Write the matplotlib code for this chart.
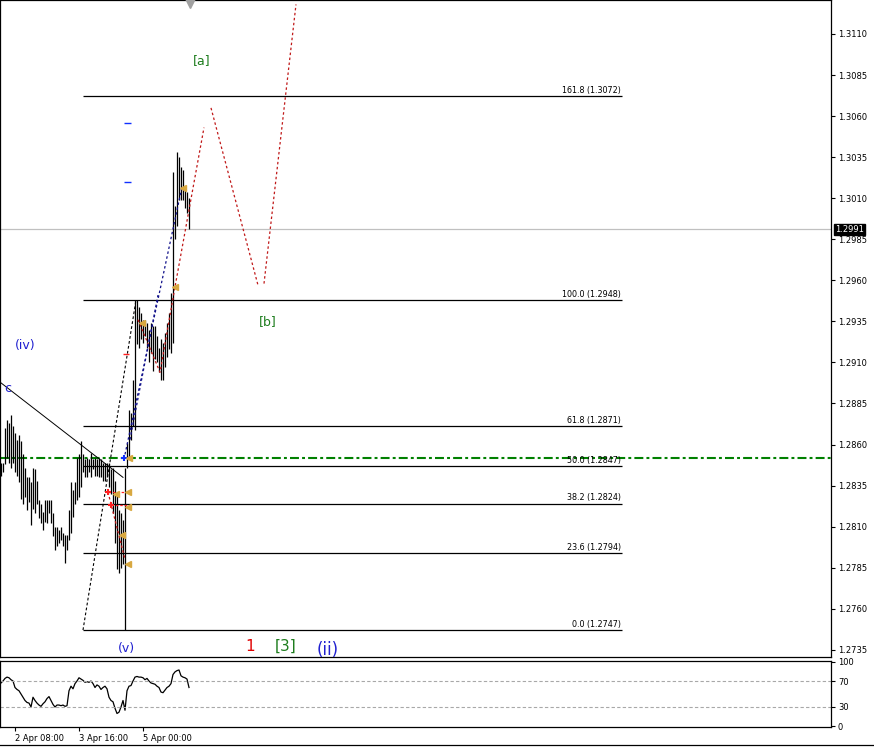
import matplotlib.pyplot as plt
from matplotlib.lines import Line2D
import numpy as np

# hourly bars, x = hours since 2 Apr 00:00
bar_high = [1.2849, 1.2849, 1.2870, 1.2875, 1.2873, 1.2878, 1.2871, 1.2867, 1.2863, 1.2866,
            1.2862, 1.2854, 1.2846, 1.2840, 1.2840, 1.2837, 1.2846, 1.2845, 1.2838, 1.2826,
            1.2824, 1.2819, 1.2826, 1.2826, 1.2826, 1.2826, 1.2818, 1.2810, 1.2810, 1.2808,
            1.2810, 1.2806, 1.2805, 1.2805, 1.2820, 1.2837, 1.2832, 1.2837, 1.2852, 1.2854,
            1.2862, 1.2854, 1.2851, 1.2852, 1.2851, 1.2855, 1.2851, 1.2852, 1.2851, 1.2852,
            1.2851, 1.2849, 1.2849, 1.2849, 1.2849, 1.2845, 1.2846, 1.2838, 1.2830, 1.2820,
            1.2818, 1.2814, 1.2846, 1.2861, 1.2881, 1.2879, 1.2899, 1.2948, 1.2948, 1.2944,
            1.2940, 1.2936, 1.2936, 1.2934, 1.2930, 1.2934, 1.2932, 1.2932, 1.2926, 1.2919,
            1.2924, 1.2922, 1.2928, 1.2934, 1.2940, 1.2952, 1.3026, 1.3005, 1.3038, 1.3035,
            1.3029, 1.3027, 1.3015, 1.3014, 1.3010]
bar_low = [1.2841, 1.2843, 1.2848, 1.2852, 1.2849, 1.2846, 1.2849, 1.2843, 1.2841, 1.2837,
           1.2827, 1.2824, 1.2828, 1.2820, 1.2825, 1.2811, 1.2821, 1.2818, 1.2824, 1.2815,
           1.2812, 1.2808, 1.2813, 1.2812, 1.2818, 1.2812, 1.2804, 1.2796, 1.2798, 1.2800,
           1.2802, 1.2798, 1.2788, 1.2796, 1.2802, 1.2806, 1.2816, 1.2824, 1.2826, 1.2828,
           1.2834, 1.2843, 1.2840, 1.2840, 1.2843, 1.2840, 1.2845, 1.2841, 1.2841, 1.2840,
           1.2840, 1.2838, 1.2838, 1.2840, 1.2834, 1.2830, 1.2818, 1.2800, 1.2784, 1.2782,
           1.2785, 1.2787, 1.2747, 1.2846, 1.2852, 1.2863, 1.2871, 1.2869, 1.2921, 1.2919,
           1.2924, 1.2922, 1.2926, 1.2919, 1.2910, 1.2916, 1.2905, 1.2912, 1.2910, 1.2904,
           1.2899, 1.2899, 1.2907, 1.2913, 1.2918, 1.2916, 1.2922, 1.2985, 1.2993, 1.3009,
           1.3009, 1.3009, 1.3004, 1.3001, 1.2991]
osc = [67, 70, 74, 76, 75, 72, 70, 60, 57, 55,
       50, 45, 40, 37, 36, 30, 45, 40, 36, 33,
       31, 35, 38, 43, 46, 40, 34, 30, 33, 33,
       32, 33, 31, 32, 55, 62, 58, 66, 70, 75,
       73, 71, 68, 69, 68, 70, 66, 60, 64, 62,
       57, 60, 62, 58, 45, 40, 38, 28, 20, 22,
       30, 40, 25, 55, 62, 63, 70, 76, 77, 76,
       76, 75, 72, 74, 70, 67, 66, 65, 62, 60,
       53, 52, 56, 60, 62, 66, 80, 84, 86, 87,
       78, 76, 75, 73, 60]
hours = np.arange(1, len(bar_high) + 1)

bid = 1.2991
support = 1.2852
fib_levels = [0.0, 23.6, 38.2, 50.0, 61.8, 100.0, 161.8]
fib_prices = [1.2747, 1.2794, 1.2824, 1.2847, 1.2871, 1.2948, 1.3072]
fib_start, fib_end = 42, 311.5

price_ticks = np.arange(1.2735, 1.3111, 0.0025)
time_ticks = [8, 40, 72]
time_labels = ['2 Apr 08:00', '3 Apr 16:00', '5 Apr 00:00']

# wave counts: (text, hour, price, color, size)
waves = [('c', 4.5, 1.2894, '#2020d0', 9),
         ('(iv)', 13, 1.2920, '#2020d0', 9),
         ('(v)', 63.5, 1.2736, '#2020d0', 9),
         ('[a]', 101.5, 1.3094, '#1e7d1e', 9),
         ('[b]', 134.5, 1.2935, '#1e7d1e', 9),
         ('1', 125.5, 1.2737, '#e00000', 11),
         ('[3]', 143.5, 1.2737, '#1e7d1e', 11),
         ('(ii)', 164.5, 1.2735, '#2020d0', 12)]

# projected path (red dotted)
proj_a_t = [69.5, 80.5, 88, 102.5]
proj_a_p = [1.2936, 1.2904, 1.2956, 1.3053]
proj_b_t = [106, 129.5]
proj_b_p = [1.3065, 1.2957]
proj_c_t = [132.5, 148.5]
proj_c_p = [1.2958, 1.3128]
proj_d_t = [54.5, 63]
proj_d_p = [1.2831, 1.2790]

trend_t = [0.5, 62]
trend_p = [1.2898, 1.2840]

fig = plt.figure(figsize=(8.74, 7.48), dpi=100)
ax = fig.add_axes([0, 1 - 657 / 748, 831 / 874, 657 / 748])
ax2 = fig.add_axes([0, 1 - 727 / 748, 831 / 874, 66 / 748])

ax.set_xlim(0.5, 416)
ax.set_ylim(1.27306, 1.31307)
ax2.set_xlim(0.5, 416)
ax2.set_ylim(-0.8, 100.8)

# reference lines
ax.axhline(bid, color='#c0c0c0', lw=0.9, zorder=1)
ax.axhline(support, color='#008000', lw=1.5, ls=(0, (4.3, 1.5, 1.4, 1.5)), zorder=2)

# fibonacci
ax.hlines(fib_prices, fib_start, fib_end, color='black', lw=0.9, zorder=2)
for lvl, pr in zip(fib_levels, fib_prices):
    ax.text(fib_end - 0.5, pr + 0.00008, f'{lvl:.1f} ({pr:.4f})', ha='right', va='bottom',
            fontsize=5.8, color='black')
ax.plot([fib_start, 68.5], [fib_prices[0], fib_prices[5]], color='black', lw=0.8,
        ls=(0, (2.5, 2)), zorder=2)

ax.plot(trend_t, trend_p, color='black', lw=0.7, zorder=2)

# bars
ax.vlines(hours, bar_low, bar_high, color='black', lw=0.9, zorder=3)

# projections / helpers
dot = (0, (2, 2))
for t, p in [(proj_a_t, proj_a_p), (proj_b_t, proj_b_p), (proj_c_t, proj_c_p), (proj_d_t, proj_d_p)]:
    ax.plot(t, p, color='#c01818', lw=0.9, ls=dot, zorder=4)
ax.plot([63, 91.5], [1.2854, 1.3017], color='#10108a', lw=0.9, ls=dot, zorder=4)
ax.plot([65.5, 79.5], [1.2863, 1.2951], color='#10108a', lw=0.9, ls=dot, zorder=4)
ax.hlines([1.3056, 1.3020], 62.5, 66, color='#1030ff', lw=1.0, zorder=4)
ax.hlines([1.2915], 62, 65, color='#ff2020', lw=1.0, zorder=4)
ax.hlines([1.2831, 1.2823], [54.5, 56], 64, color='#ff2020', lw=0.9, ls=(0, (2, 1.5)), zorder=4)
ax.plot([54.5, 56], [1.2831, 1.2823], '+', color='#ff2020', ms=5, mew=1.5, zorder=5)
ax.plot([62.5], [1.2852], '+', color='#1030ff', ms=5, mew=1.5, zorder=5)
ax.plot([65, 64.5, 64.5, 64.5, 61.5, 58.5, 71.5, 88, 92],
        [1.2852, 1.2831, 1.2822, 1.2787, 1.2805, 1.2830, 1.2934, 1.2956, 1.3016],
        '<', color='#d8a840', ms=4, zorder=5)
ax.plot([95.5], [1.3129], 'v', color='#a0a0a0', ms=7, clip_on=False, zorder=5)

for txt, t, p, c, s in waves:
    ax.text(t, p, txt, color=c, fontsize=s, ha='center', va='center')

# price axis
ax.yaxis.tick_right()
ax.set_yticks(price_ticks)
ax.set_yticklabels([f'{v:.4f}' for v in price_ticks])
ax.tick_params(axis='y', length=3, width=0.8, labelsize=6, pad=2)
ax.set_xticks([])
ax.annotate(f'{bid:.4f}', xy=(1, bid), xycoords=('axes fraction', 'data'),
            xytext=(3, 0), textcoords='offset points', fontsize=6, color='white',
            va='center', ha='left',
            bbox=dict(boxstyle='square,pad=0.15', fc='black', ec='black'))

# oscillator
ax2.plot(hours, osc, color='black', lw=0.9)
ax2.axhline(70, color='#a8a8a8', lw=0.8, ls=(0, (3, 2)))
ax2.axhline(30, color='#a8a8a8', lw=0.8, ls=(0, (3, 2)))
ax2.yaxis.tick_right()
ax2.set_yticks([0, 30, 70, 100])
ax2.tick_params(axis='y', length=3, width=0.8, labelsize=6, pad=2)
ax2.set_xticks(time_ticks)
ax2.set_xticklabels(time_labels, ha='left')
ax2.tick_params(axis='x', length=3, width=0.8, labelsize=6, pad=2)

for a in (ax, ax2):
    for s in a.spines.values():
        s.set_linewidth(0.9)

# window frame at the bottom
fig.add_artist(Line2D([0, 1], [1 - 745 / 748] * 2, color='black', lw=0.9))

fig.savefig('out.png', dpi=100)
